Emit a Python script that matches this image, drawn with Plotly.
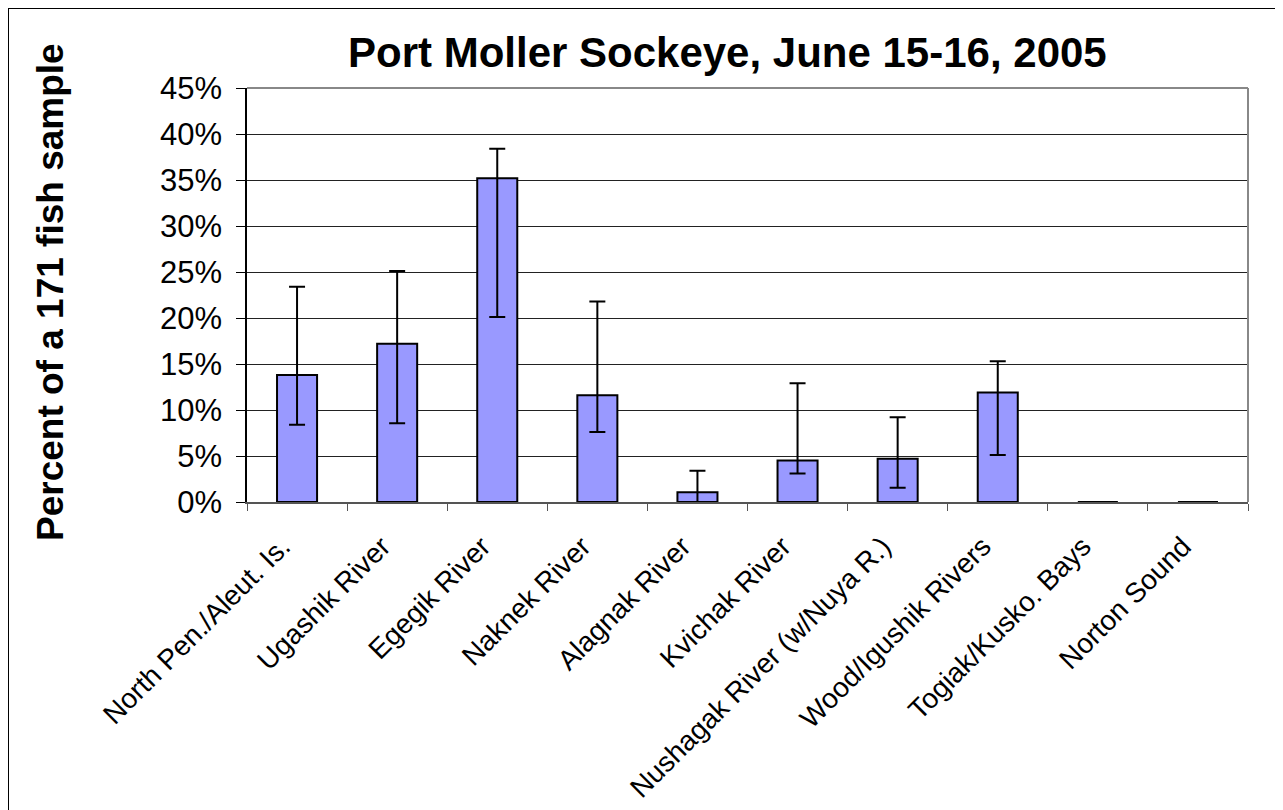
import plotly.graph_objects as go

categories = ["North Pen./Aleut. Is.", "Ugashik River", "Egegik River", "Naknek River",
              "Alagnak River", "Kvichak River", "Nushagak River (w/Nuya R.)",
              "Wood/Igushik Rivers", "Togiak/Kusko. Bays", "Norton Sound"]
values = [13.8, 17.2, 35.2, 11.6, 1.05, 4.5, 4.7, 11.9, 0.0, 0.0]
upper = [23.4, 25.1, 38.4, 21.8, 3.4, 12.9, 9.2, 15.3, 0.0, 0.0]
lower = [8.4, 8.55, 20.1, 7.6, 0.0, 3.1, 1.55, 5.1, 0.0, 0.0]
yticks = [0, 5, 10, 15, 20, 25, 30, 35, 40, 45]
ytick_text = [f"{v}%" for v in yticks]

err_plus = [u - v for u, v in zip(upper, values)]
err_minus = [v - l for v, l in zip(values, lower)]
tick_text_x = [c + "\u00a0\u00a0\u2009" for c in categories]

OFF = 8  # page body margin
W, H = 1283 - OFF, 810 - OFF
L, R, T, B = 247 - OFF, 1248 - OFF, 88 - OFF, 502 - OFF

def px(x):
    return (x - OFF - L) / (R - L)

def py(y):
    return (B - (y - OFF)) / (B - T)

fig = go.Figure()
fig.add_trace(go.Bar(
    x=categories, y=values,
    marker=dict(color="#9999FF", line=dict(color="black", width=2)),
    error_y=dict(type="data", symmetric=False, array=err_plus, arrayminus=err_minus,
                 color="black", thickness=2, width=8),
    width=0.4,
))

fig.update_layout(
    width=W, height=H,
    margin=dict(l=L, r=W - R, t=T, b=H - B, autoexpand=False),
    paper_bgcolor="white", plot_bgcolor="white",
    font=dict(family="Liberation Sans, Arial, sans-serif", color="black"),
    showlegend=False,
    xaxis=dict(
        tickangle=-45, tickfont=dict(size=28), automargin=False,
        tickmode="array", tickvals=categories, ticktext=tick_text_x,
        ticks="outside", tickson="boundaries", ticklen=7, tickcolor="#555",
        showline=True, linecolor="#555", linewidth=2,
        showgrid=False, mirror=False, ticklabelstandoff=0,
    ),
    yaxis=dict(
        range=[0, 45], tickvals=yticks, ticktext=ytick_text, automargin=False,
        tickfont=dict(size=31), ticks="outside", ticklen=9, tickcolor="black",
        showline=True, linecolor="black", linewidth=1.5,
        showgrid=True, gridcolor="#222", gridwidth=1, zeroline=False,
        ticklabelstandoff=8,
    ),
    annotations=[
        dict(text="<b>Port Moller Sockeye, June 15-16, 2005</b>", x=px(727), y=py(52),
             xref="paper", yref="paper", showarrow=False, font=dict(size=42),
             xanchor="center", yanchor="middle"),
        dict(text="<b>Percent of a 171 fish sample</b>", x=px(50), y=py(292),
             xref="paper", yref="paper", showarrow=False, font=dict(size=37),
             textangle=-90, xanchor="center", yanchor="middle"),
    ],
    shapes=[
        dict(type="rect", xref="paper", yref="paper", x0=px(8), x1=px(1280), y0=py(830), y1=py(8),
             line=dict(color="black", width=2), layer="below"),
        dict(type="line", xref="paper", yref="paper", x0=0, x1=1, y0=1, y1=1,
             line=dict(color="#888", width=2)),
        dict(type="line", xref="paper", yref="paper", x0=1, x1=1, y0=0, y1=1,
             line=dict(color="#888", width=2)),
    ],
)

fig.write_html("out.html")
